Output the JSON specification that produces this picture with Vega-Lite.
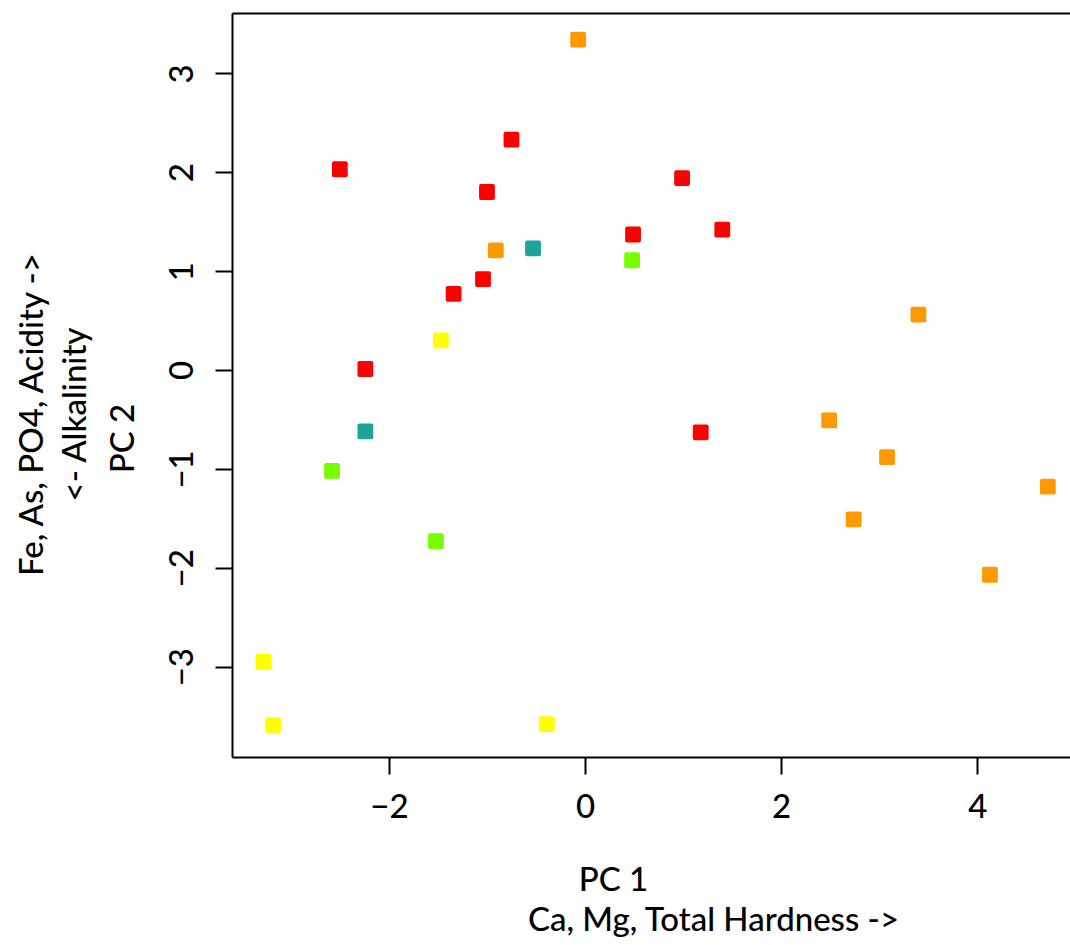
{
  "$schema": "https://vega.github.io/schema/vega-lite/v6.json",
  "width": 838,
  "height": 744,
  "autosize": "none",
  "padding": {"left": 232, "top": 13, "right": 0, "bottom": 188},
  "background": "white",
  "config": {
    "view": {"stroke": null},
    "font": "Lato",
    "axis": {
      "domainColor": "black",
      "domainWidth": 2,
      "tickColor": "black",
      "tickWidth": 2,
      "tickSize": 17,
      "labelColor": "black",
      "labelFont": "Lato",
      "labelFontSize": 33,
      "labelFontWeight": 500,
      "titleColor": "black",
      "titleFont": "Lato",
      "titleFontSize": 33,
      "titleFontWeight": 500,
      "grid": false
    }
  },
  "data": {
    "values": [
      {"pc1": -0.07, "pc2": 3.34, "cluster": "C2"},
      {"pc1": -0.75, "pc2": 2.33, "cluster": "C1"},
      {"pc1": -2.50, "pc2": 2.03, "cluster": "C1"},
      {"pc1": -1.00, "pc2": 1.80, "cluster": "C1"},
      {"pc1": 0.99, "pc2": 1.94, "cluster": "C1"},
      {"pc1": 0.49, "pc2": 1.37, "cluster": "C1"},
      {"pc1": 1.40, "pc2": 1.42, "cluster": "C1"},
      {"pc1": -0.91, "pc2": 1.21, "cluster": "C2"},
      {"pc1": -0.53, "pc2": 1.23, "cluster": "C3"},
      {"pc1": 0.48, "pc2": 1.11, "cluster": "C4"},
      {"pc1": -1.04, "pc2": 0.92, "cluster": "C1"},
      {"pc1": -1.34, "pc2": 0.77, "cluster": "C1"},
      {"pc1": 3.40, "pc2": 0.56, "cluster": "C2"},
      {"pc1": -1.47, "pc2": 0.30, "cluster": "C5"},
      {"pc1": -2.24, "pc2": 0.01, "cluster": "C1"},
      {"pc1": -2.24, "pc2": -0.62, "cluster": "C3"},
      {"pc1": 1.18, "pc2": -0.63, "cluster": "C1"},
      {"pc1": 2.49, "pc2": -0.51, "cluster": "C2"},
      {"pc1": -2.58, "pc2": -1.02, "cluster": "C4"},
      {"pc1": 3.08, "pc2": -0.88, "cluster": "C2"},
      {"pc1": 4.72, "pc2": -1.18, "cluster": "C2"},
      {"pc1": 2.74, "pc2": -1.51, "cluster": "C2"},
      {"pc1": -1.52, "pc2": -1.73, "cluster": "C4"},
      {"pc1": 4.13, "pc2": -2.07, "cluster": "C2"},
      {"pc1": -3.28, "pc2": -2.95, "cluster": "C5"},
      {"pc1": -3.18, "pc2": -3.59, "cluster": "C5"},
      {"pc1": -0.39, "pc2": -3.58, "cluster": "C5"}
    ]
  },
  "layer": [
    {
      "mark": {
        "type": "point",
        "shape": "M-1,-0.75Q-1,-1,-0.75,-1L0.75,-1Q1,-1,1,-0.75L1,0.75Q1,1,0.75,1L-0.75,1Q-1,1,-1,0.75Z",
        "size": 250,
        "filled": true,
        "opacity": 1,
        "strokeWidth": 0
      },
      "encoding": {
        "x": {
          "field": "pc1",
          "type": "quantitative",
          "scale": {"domain": [-3.6, 4.946], "nice": false, "zero": false},
          "axis": {
            "orient": "bottom",
            "values": [-2, 0, 2, 4],
            "labelPadding": 17,
            "labelFlush": false,
            "labelOverlap": false,
            "title": "PC 1",
            "titleX": 381,
            "titleY": 133,
            "titleAlign": "center",
            "titleBaseline": "alphabetic",
            "titleAnchor": null
          }
        },
        "y": {
          "field": "pc2",
          "type": "quantitative",
          "scale": {"domain": [-3.913, 3.61], "nice": false, "zero": false},
          "axis": {
            "orient": "left",
            "values": [-3, -2, -1, 0, 1, 2, 3],
            "labelAngle": 270,
            "labelAlign": "center",
            "labelBaseline": "bottom",
            "labelPadding": 16,
            "labelFlush": false,
            "labelOverlap": false,
            "title": "PC 2",
            "titleAngle": 270,
            "titleX": -99,
            "titleY": 425,
            "titleAlign": "center",
            "titleBaseline": "alphabetic",
            "titleAnchor": null
          }
        },
        "color": {
          "field": "cluster",
          "type": "nominal",
          "scale": {
            "domain": ["C1", "C2", "C3", "C4", "C5"],
            "range": ["#FF0000", "#FF9900", "#1AA59A", "#77FF00", "#FFFF00"]
          },
          "legend": null
        }
      }
    },
    {
      "mark": {"type": "point", "opacity": 0},
      "encoding": {
        "x": {
          "field": "pc1",
          "type": "quantitative",
          "scale": {"domain": [-3.6, 4.946], "nice": false, "zero": false},
          "axis": {
            "orient": "top",
            "ticks": false,
            "labels": false,
            "title": "Ca, Mg, Total Hardness ->",
            "titleX": 481,
            "titleY": 917,
            "titleAlign": "center",
            "titleBaseline": "alphabetic",
            "titleAnchor": null
          }
        },
        "y": {
          "field": "pc2",
          "type": "quantitative",
          "scale": {"domain": [-3.913, 3.61], "nice": false, "zero": false},
          "axis": {
            "orient": "right",
            "domain": false,
            "ticks": false,
            "labels": false,
            "title": ["Fe, As, PO4, Acidity ->", "<- Alkalinity"],
            "titleAngle": 270,
            "titleX": -1028,
            "titleY": 401,
            "titleAlign": "center",
            "titleBaseline": "alphabetic",
            "titleLineHeight": 43,
            "titleAnchor": null
          }
        }
      }
    }
  ],
  "resolve": {"axis": {"x": "independent", "y": "independent"}}
}
